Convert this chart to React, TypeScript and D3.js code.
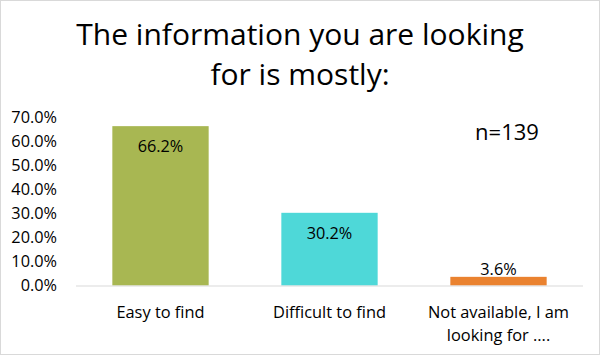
import React from "react";
import * as d3 from "d3";

const categories: string[][] = [
  ["Easy to find"],
  ["Difficult to find"],
  ["Not available, I am", "looking for ...."],
];
const values: number[] = [0.662, 0.302, 0.036];
const barColors: string[] = ["#A8B752", "#4ED8D8", "#EA822F"];
const yTicks: number[] = [0, 0.1, 0.2, 0.3, 0.4, 0.5, 0.6, 0.7];
const titleLines: string[] = ["The information you are looking", "for is mostly:"];
const noteText = "n=139";

const W = 600;
const H = 355;
const FONT = "'Open Sans', 'Noto Sans', sans-serif";

export default function App() {
  const x = d3
    .scaleBand<number>()
    .domain(values.map((_, i) => i))
    .range([76, 583])
    .paddingInner(0.43)
    .paddingOuter(0.215);
  const y = d3.scaleLinear().domain([0, 0.7]).range([285.5, 117]);
  const fmt = d3.format(".1%");

  return (
    <svg
      width={W}
      height={H}
      style={{ position: "absolute", left: 0, top: 0, background: "#fff" }}
      fontFamily={FONT}
    >
      <rect x={0.5} y={0.5} width={W - 1} height={H - 1} fill="#fff" stroke="#d9d9d9" />
      {titleLines.map((t, i) => (
        <text key={i} x={W / 2} y={44.5 + i * 40} textAnchor="middle" fontSize={30} fill="#000">
          {t}
        </text>
      ))}
      {yTicks.map((t) => (
        <text key={t} x={57} y={y(t)} dy="0.35em" textAnchor="end" fontSize={16.3} fill="#000">
          {fmt(t)}
        </text>
      ))}
      {values.map((v, i) => {
        const bx = x(i)!;
        const bw = x.bandwidth();
        const top = y(v);
        const h = y(0) - top;
        const inside = h > 30;
        return (
          <g key={i}>
            <rect x={bx} y={top} width={bw} height={h} fill={barColors[i]} />
            <text
              x={bx + bw / 2}
              y={inside ? top + 20 : top - 8}
              dy="0.35em"
              textAnchor="middle"
              fontSize={16.3}
              fill="#000"
            >
              {fmt(v)}
            </text>
          </g>
        );
      })}
      <line x1={76} x2={583} y1={y(0) + 0.5} y2={y(0) + 0.5} stroke="#d9d9d9" strokeWidth={1} />
      {categories.map((lines, i) => (
        <g key={i}>
          {lines.map((l, j) => (
            <text
              key={j}
              x={x(i)! + x.bandwidth() / 2}
              y={312 + j * 23}
              dy="0.35em"
              textAnchor="middle"
              fontSize={16.4}
              fill="#000"
            >
              {l}
            </text>
          ))}
        </g>
      ))}
      <text x={507} y={132} dy="0.35em" textAnchor="middle" fontSize={22} fill="#000">
        {noteText}
      </text>
    </svg>
  );
}
